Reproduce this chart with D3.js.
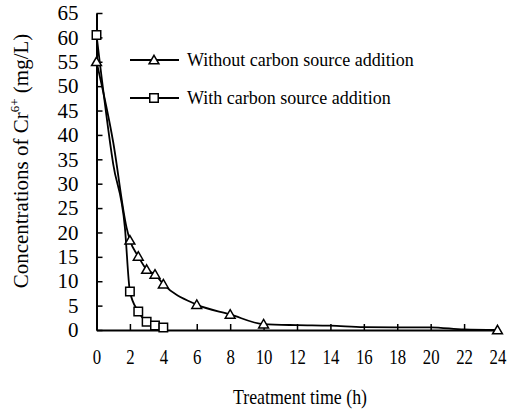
<!DOCTYPE html>
<html>
<head>
<meta charset="utf-8">
<script src="https://cdn.jsdelivr.net/npm/d3@7"></script>
</head>
<body style="margin:0;background:#fff">
<svg width="509" height="412"></svg>
<script>
// data
var seriesNames = ["Without carbon source addition", "With carbon source addition"];

// without carbon source (triangles)
var timeWithout = [0, 1, 1.8, 2, 2.5, 3, 3.5, 4, 6, 8, 10, 12, 14, 16, 18, 20, 22, 24];
var concWithout = [55, 38.5, 21, 18.4, 15.1, 12.4, 11.4, 9.4, 5.2, 3.2, 1.2, 1.0, 0.9, 0.6, 0.55, 0.55, 0.1, 0];
var markWithout = [1, 0, 0, 1, 1, 1, 1, 1, 1, 1, 1, 0, 0, 0, 0, 0, 0, 1];

// with carbon source (squares)
var timeWith = [0, 1, 1.7, 2, 2.5, 3, 3.5, 4];
var concWith = [60.5, 34, 21, 7.9, 3.8, 1.7, 0.9, 0.5];
var markWith = [1, 0, 0, 1, 1, 1, 1, 1];

var xTicks = [0, 2, 4, 6, 8, 10, 12, 14, 16, 18, 20, 22, 24];
var yTicks = [0, 5, 10, 15, 20, 25, 30, 35, 40, 45, 50, 55, 60, 65];

var FONT = "Liberation Serif";

var svg = d3.select("svg");

var x = d3.scaleLinear().domain([0, 24]).range([96.5, 497.5]);
var y = d3.scaleLinear().domain([0, 65]).range([330, 13]);

function toPoints(t, v, m) {
  return t.map(function(d, i) { return { t: d, v: v[i], m: m[i] }; });
}
var without = toPoints(timeWithout, concWithout, markWithout);
var withC = toPoints(timeWith, concWith, markWith);

// x axis: ticks point up, labels well below
var xAxis = svg.append("g")
  .attr("transform", "translate(0,330)")
  .call(d3.axisBottom(x).tickValues(xTicks).tickSizeInner(-6).tickSizeOuter(0).tickPadding(19));
xAxis.attr("font-family", FONT).attr("font-size", 21);
xAxis.select(".domain").attr("stroke-width", 2);
xAxis.selectAll(".tick line").attr("stroke-width", 1.5);
xAxis.selectAll(".tick").filter(function(d) { return d === 24; }).select("line").remove();
xAxis.selectAll("text")
  .style("font-family", FONT).style("font-size", "21px")
  .attr("transform", "scale(0.8,1)");

// y axis: ticks point right
var yAxis = svg.append("g")
  .attr("transform", "translate(96.5,0)")
  .call(d3.axisLeft(y).tickValues(yTicks).tickSizeInner(-6).tickSizeOuter(0).tickPadding(18));
yAxis.attr("font-family", FONT).attr("font-size", 21);
yAxis.select(".domain").attr("stroke-width", 2);
yAxis.selectAll(".tick line").attr("stroke-width", 1.5);
yAxis.selectAll("text").style("font-family", FONT).style("font-size", "21px");

// axis titles
svg.append("text")
  .attr("transform", "translate(300,404) scale(0.85,1)")
  .attr("text-anchor", "middle")
  .style("font-family", FONT).style("font-size", "21px")
  .text("Treatment time (h)");

var yt = svg.append("text")
  .attr("transform", "translate(28,161) rotate(-90)")
  .attr("text-anchor", "middle")
  .style("font-family", FONT).style("font-size", "21px");
yt.append("tspan").text("Concentrations of Cr");
yt.append("tspan").style("font-size", "13px").attr("dy", -9).text("6+");
yt.append("tspan").attr("dy", 9).text(" (mg/L)");

// lines
var line = d3.line()
  .x(function(d) { return x(d.t); })
  .y(function(d) { return y(d.v); })
  .curve(d3.curveMonotoneX);

[without, withC].forEach(function(s) {
  svg.append("path")
    .datum(s)
    .attr("fill", "none")
    .attr("stroke", "#000")
    .attr("stroke-width", 1.8)
    .attr("d", line);
});

var tri = d3.symbol().type(d3.symbolTriangle).size(42);
var sq = d3.symbol().type(d3.symbolSquare).size(72);

function drawMarks(s, sym, dy) {
  svg.selectAll(null)
    .data(s.filter(function(d) { return d.m; }))
    .enter().append("path")
    .attr("d", sym)
    .attr("transform", function(d) { return "translate(" + x(d.t) + "," + (y(d.v) + dy) + ")"; })
    .attr("fill", "#fff")
    .attr("stroke", "#000")
    .attr("stroke-width", 1.5);
}
drawMarks(without, tri, 1);
drawMarks(withC, sq, 0);

// legend
var legend = [
  { name: seriesNames[0], sym: tri, dy: 1, yy: 60 },
  { name: seriesNames[1], sym: sq, dy: 0, yy: 98 }
];
legend.forEach(function(l) {
  svg.append("line")
    .attr("x1", 130).attr("x2", 179)
    .attr("y1", l.yy).attr("y2", l.yy)
    .attr("stroke", "#000").attr("stroke-width", 1.8);
  svg.append("path")
    .attr("d", l.sym)
    .attr("transform", "translate(154," + (l.yy + l.dy) + ")")
    .attr("fill", "#fff").attr("stroke", "#000").attr("stroke-width", 1.5);
  svg.append("text")
    .attr("x", 187).attr("y", l.yy + 6)
    .style("font-family", FONT).style("font-size", "18px")
    .text(l.name);
});
</script>
</body>
</html>
